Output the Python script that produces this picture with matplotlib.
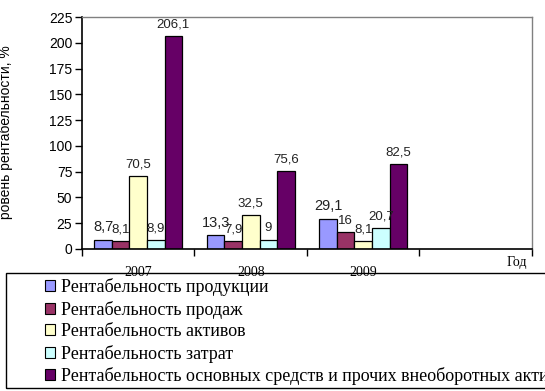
import numpy as np
import matplotlib.pyplot as plt
from matplotlib.patches import Rectangle
from matplotlib.ticker import FixedLocator, NullFormatter

# data
years = ["2007", "2008", "2009"]
series_names = [
    "Рентабельность продукции",
    "Рентабельность продаж",
    "Рентабельность активов",
    "Рентабельность затрат",
    "Рентабельность основных средств и прочих внеоборотных активов",
]
prod = [8.7, 13.3, 29.1]
sales = [8.1, 7.9, 16]
assets = [70.5, 32.5, 8.1]
costs = [8.9, 9, 20.7]
fixed = [206.1, 75.6, 82.5]
colors = ["#9999FF", "#993366", "#FFFFCC", "#CCFFFF", "#660066"]
n_slots = 4  # Excel left an empty fourth category

fig = plt.figure(figsize=(5.45, 3.91), dpi=100)
ax = fig.add_axes([0.1505, 0.3632, 0.8255, 0.5933])

w = 0.156
x = np.arange(len(years)) + 0.5
all_series = [prod, sales, assets, costs, fixed]
for j, (vals, col, name) in enumerate(zip(all_series, colors, series_names)):
    bars = ax.bar(x + (j - 2) * w, vals, width=w, color=col, edgecolor="black",
                  linewidth=0.9, label=name)
    labels = [f"{v:g}".replace(".", ",") for v in vals]
    ax.bar_label(bars, labels=labels, padding=4, fontsize=10.5 if j == 0 else 9.5,
                 family="Liberation Sans", color="#222222")

ax.set_xlim(0, n_slots)
ax.set_ylim(0, 225)
ax.set_yticks(np.arange(0, 226, 25))
ax.tick_params(axis="y", labelsize=10, length=5, width=1, direction="out", pad=2)
for t in ax.get_yticklabels():
    t.set_family("Liberation Sans")

ax.xaxis.set_major_locator(FixedLocator(np.arange(0, n_slots + 1)))
ax.xaxis.set_major_formatter(NullFormatter())
ax.xaxis.set_minor_locator(FixedLocator(x))
ax.set_xticklabels(years, minor=True)
ax.tick_params(axis="x", which="major", length=5, width=1, direction="out")
ax.tick_params(axis="x", which="minor", length=0, pad=12.5, labelsize=10)
for t in ax.get_xticklabels(minor=True):
    t.set_family("Liberation Serif")

ax.spines["left"].set_color("black")
ax.spines["bottom"].set_color("black")
ax.spines["left"].set_linewidth(1.2)
ax.spines["bottom"].set_linewidth(1.2)
for s in ("top", "right"):
    ax.spines[s].set_color("#808080")
    ax.spines[s].set_linewidth(1)

fig.text(0.949, 0.313, "Год", family="Liberation Serif", fontsize=10,
         ha="center", va="bottom")
fig.text(0.011, 0.662, "ровень рентабельности, %", rotation=90,
         family="Liberation Sans", fontsize=10, ha="center", va="center")

# legend box runs off the right edge, as in the reference
box = Rectangle((6 / 545, 1 - 388 / 391), 1.5, (388 - 273) / 391,
                transform=fig.transFigure, facecolor="none", edgecolor="black",
                linewidth=1, zorder=3)
fig.patches.append(box)

leg = fig.legend(loc="upper left", bbox_to_anchor=(45 / 545, 1 - 278 / 391),
                 prop={"family": "Liberation Serif", "size": 13},
                 frameon=False, borderpad=0,
                 handlelength=0.58, handleheight=0.58, handletextpad=0.3,
                 labelspacing=0.25, borderaxespad=0)
leg.set_zorder(4)
for h in leg.legend_handles:
    h.set_linewidth(0.8)

fig.savefig("out.png", dpi=100)
